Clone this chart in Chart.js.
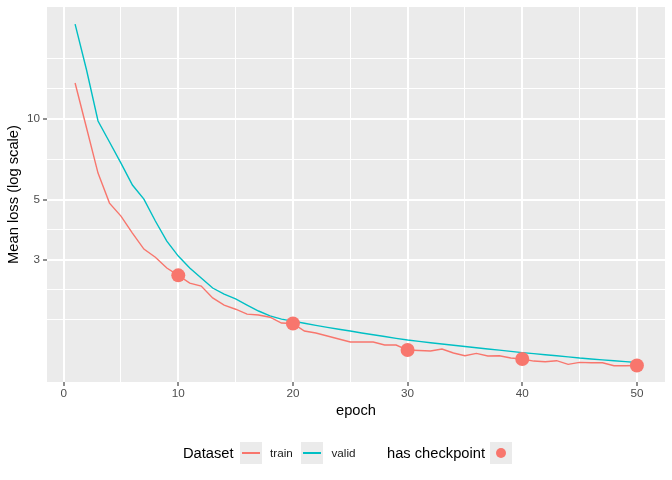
<!DOCTYPE html>
<html>
<head>
<meta charset="utf-8">
<script src="https://cdn.jsdelivr.net/npm/chart.js@4.4.1/dist/chart.umd.min.js"></script>
<style>
  body { margin: 0; background: #fff; }
  #wrap { position: relative; width: 672px; height: 480px; font-family: "Liberation Sans", Arial, sans-serif; }
  #legend div { position: absolute; white-space: nowrap; }
  .key { width: 22px; height: 22px; background: #EBEBEB; }
  .key .ln { position: absolute; left: 2px; right: 2px; top: 10.3px; height: 1.4px; }
  .key .dot { position: absolute; left: 6px; top: 6px; width: 10px; height: 10px; border-radius: 50%; }
</style>
</head>
<body>
<div id="wrap">
  <canvas id="lossChart" width="672" height="480"></canvas>
  <div id="legend"></div>
</div>
<script>
// epochs and mean losses
const epochs = [1, 2, 3, 4, 5, 6, 7, 8, 9, 10,
    11, 12, 13, 14, 15, 16, 17, 18, 19, 20,
    21, 22, 23, 24, 25, 26, 27, 28, 29, 30,
    31, 32, 33, 34, 35, 36, 37, 38, 39, 40,
    41, 42, 43, 44, 45, 46, 47, 48, 49, 50];

const trainLoss = [13.56, 9.24, 6.29, 4.87, 4.36, 3.77, 3.29, 3.07, 2.80, 2.63,
    2.46, 2.40, 2.17, 2.04, 1.97, 1.89, 1.875, 1.84, 1.751, 1.744,
    1.636, 1.608, 1.568, 1.528, 1.489, 1.489, 1.489, 1.452, 1.452, 1.391,
    1.385, 1.379, 1.403, 1.356, 1.325, 1.352, 1.322, 1.325, 1.299, 1.288,
    1.266, 1.259, 1.270, 1.231, 1.252, 1.248, 1.248, 1.217, 1.217, 1.219];

const validLoss = [22.42, 15.15, 9.81, 8.20, 6.85, 5.68, 5.04, 4.18, 3.52, 3.10,
    2.80, 2.57, 2.36, 2.24, 2.15, 2.04, 1.94, 1.86, 1.81, 1.78,
    1.748, 1.717, 1.688, 1.661, 1.636, 1.609, 1.585, 1.561, 1.537, 1.515,
    1.497, 1.480, 1.464, 1.448, 1.433, 1.419, 1.404, 1.390, 1.375, 1.361,
    1.349, 1.336, 1.324, 1.312, 1.299, 1.289, 1.279, 1.270, 1.260, 1.250];

const checkpointEpochs = [10, 20, 30, 40, 50];

const xTicks = [0, 5, 10, 15, 20, 25, 30, 35, 40, 45, 50];
const xLabels = [0, 10, 20, 30, 40, 50];
const yLabels = [3, 5, 10];
const yMinorTicks = [1.8, 2.324, 3.873, 7.071, 12.91, 16.67];

const TRAIN_COL = '#F8766D';
const VALID_COL = '#00BFC4';
const FONT = '"Liberation Sans", Arial, sans-serif';

const panelBg = {
    id: 'panelBg',
    beforeDraw(chart) {
        const { ctx, chartArea: a } = chart;
        ctx.save();
        ctx.fillStyle = '#EBEBEB';
        ctx.fillRect(a.left, a.top, a.right - a.left, a.bottom - a.top);
        ctx.restore();
    }
};

function isMajorX(v) { return xLabels.includes(v); }
function isMajorY(v) { return yLabels.includes(v); }

const ctx = document.getElementById('lossChart').getContext('2d');
new Chart(ctx, {
    type: 'line',
    data: {
        datasets: [
            {
                label: 'train',
                data: epochs.map((e, i) => ({ x: e, y: trainLoss[i] })),
                borderColor: TRAIN_COL,
                borderWidth: 1.4,
                pointRadius: 0,
                tension: 0,
                order: 2
            },
            {
                label: 'valid',
                data: epochs.map((e, i) => ({ x: e, y: validLoss[i] })),
                borderColor: VALID_COL,
                borderWidth: 1.4,
                pointRadius: 0,
                tension: 0,
                order: 3
            },
            {
                label: 'has checkpoint',
                type: 'scatter',
                data: checkpointEpochs.map(e => ({ x: e, y: trainLoss[epochs.indexOf(e)] })),
                backgroundColor: TRAIN_COL,
                borderColor: TRAIN_COL,
                pointRadius: 7,
                borderWidth: 0,
                order: 1
            }
        ]
    },
    options: {
        responsive: false,
        animation: false,
        devicePixelRatio: 1,
        layout: { padding: { left: 5, right: 7, top: 7, bottom: 58 } },
        plugins: {
            legend: { display: false },
            tooltip: { enabled: false }
        },
        scales: {
            x: {
                type: 'linear',
                min: -1.45,
                max: 52.45,
                afterBuildTicks: s => { s.ticks = xTicks.map(v => ({ value: v })); },
                afterFit: s => { s.height = 40; s.paddingLeft = 0; s.paddingRight = 0; },
                border: { display: false },
                grid: {
                    color: '#FFFFFF',
                    lineWidth: c => (c.tick && isMajorX(c.tick.value)) ? 2 : 1,
                    tickLength: 4,
                    tickColor: c => (c.tick && isMajorX(c.tick.value)) ? '#333333' : 'rgba(0,0,0,0)',
                    tickWidth: 1.1
                },
                ticks: {
                    autoSkip: false,
                    maxRotation: 0,
                    padding: 1,
                    color: '#4D4D4D',
                    font: { family: FONT, size: 11.7 },
                    callback: v => isMajorX(v) ? String(v) : ''
                },
                title: {
                    display: true,
                    text: 'epoch',
                    color: '#000000',
                    font: { family: FONT, size: 14.7 },
                    padding: { top: 0, bottom: 2 }
                }
            },
            y: {
                type: 'logarithmic',
                min: 1.059,
                max: 25.93,
                afterBuildTicks: s => {
                    s.ticks = yMinorTicks.concat(yLabels).sort((a, b) => a - b).map(v => ({ value: v }));
                },
                afterFit: s => { s.width = 42; s.paddingTop = 0; s.paddingBottom = 0; },
                border: { display: false },
                grid: {
                    color: '#FFFFFF',
                    lineWidth: c => (c.tick && isMajorY(c.tick.value)) ? 2 : 1,
                    tickLength: 4,
                    tickColor: c => (c.tick && isMajorY(c.tick.value)) ? '#333333' : 'rgba(0,0,0,0)',
                    tickWidth: 1.1
                },
                ticks: {
                    autoSkip: false,
                    padding: 3,
                    color: '#4D4D4D',
                    font: { family: FONT, size: 11.7 },
                    callback: v => isMajorY(v) ? String(v) : ''
                },
                title: {
                    display: true,
                    text: 'Mean loss (log scale)',
                    color: '#000000',
                    font: { family: FONT, size: 14.7 },
                    padding: { top: 0, bottom: 0 }
                }
            }
        }
    },
    plugins: [panelBg]
});

// ggplot-like legend under the panel
const legendItems = [
    { kind: 'title', text: 'Dataset', left: 183 },
    { kind: 'line', color: TRAIN_COL, left: 240 },
    { kind: 'label', text: 'train', left: 270 },
    { kind: 'line', color: VALID_COL, left: 301 },
    { kind: 'label', text: 'valid', left: 331.5 },
    { kind: 'title', text: 'has checkpoint', left: 387 },
    { kind: 'dot', color: TRAIN_COL, left: 490 }
];
const legend = document.getElementById('legend');
const midY = 453;
legendItems.forEach(it => {
    const d = document.createElement('div');
    d.style.left = it.left + 'px';
    if (it.kind === 'title' || it.kind === 'label') {
        const size = it.kind === 'title' ? 14.7 : 11.7;
        d.textContent = it.text;
        d.style.fontSize = size + 'px';
        d.style.height = '20px';
        d.style.lineHeight = '20px';
        d.style.top = (midY - 10) + 'px';
        d.style.color = it.kind === 'title' ? '#000' : '#1A1A1A';
    } else {
        d.className = 'key';
        d.style.top = (midY - 11) + 'px';
        const inner = document.createElement('div');
        inner.className = it.kind === 'line' ? 'ln' : 'dot';
        inner.style.background = it.color;
        d.appendChild(inner);
    }
    legend.appendChild(d);
});
</script>
</body>
</html>
